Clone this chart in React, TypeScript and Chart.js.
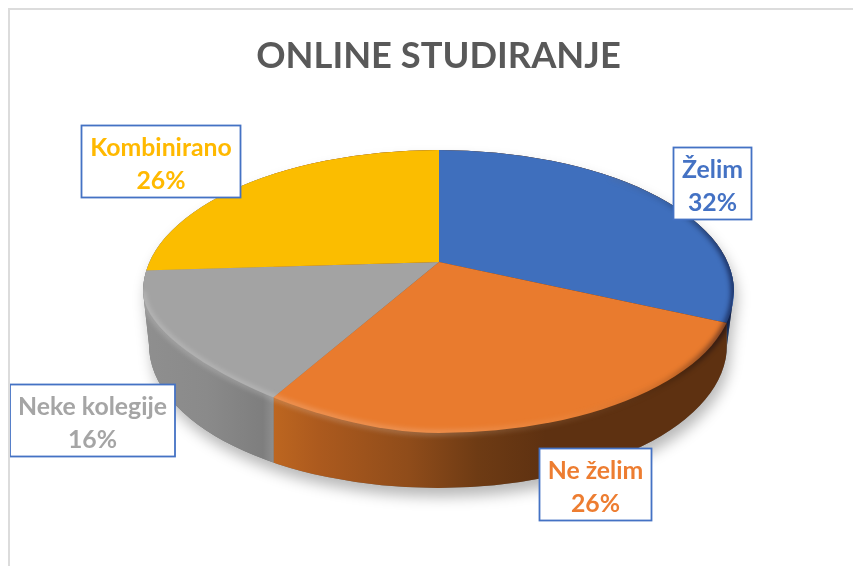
import React, { useEffect, useRef } from "react";
import { Chart, registerables } from "chart.js";

Chart.register(...registerables);

const TITLE = "ONLINE STUDIRANJE";
const categories = ["Želim", "Ne želim", "Neke kolegije", "Kombinirano"];
const shares = [32, 26, 16, 26];
const sliceColors = ["#3f6fbd", "#e97b2e", "#a3a3a3", "#fbbd00"];
const labelColors = ["#4472c4", "#ed7d31", "#a5a5a5", "#ffb900"];

// view geometry of the tilted pie
const HUB = { x: 439, y: 262 };
const TILT = 0.45;
const FACE = { x: 438.5, y: 291.5, rx: 295.5, ry: 141.5 };
const FOOT = { x: 438, y: 345, rx: 289, ry: 143 };
const FLAT = 0.42;
const BOXES = [
  { x: 673.5, y: 147.5, w: 78, h: 72 },
  { x: 539.5, y: 448.5, w: 112, h: 72 },
  { x: 10, y: 384.5, w: 165, h: 72 },
  { x: 81.5, y: 125.5, w: 159, h: 72 },
];
const WALL_STOPS: [number, string][][] = [
  [[0, "#1f3864"], [1, "#24447a"]],
  [[0, "#bd6620"], [0.1, "#ac5a1e"], [0.3, "#8f4c1a"], [0.45, "#6e3b14"], [0.6, "#5e3111"], [1, "#5e3111"]],
  [[0, "#8f8f8f"], [0.5, "#8a8a8a"], [0.92, "#7e7e7e"], [1, "#8e8e8e"]],
  [[0, "#a87c00"], [1, "#a87c00"]],
];

function traceFront(p: Path2D | CanvasRenderingContext2D, from: number) {
  const { x, y, rx, ry } = FACE;
  p.ellipse(x, y, rx, ry, 0, from, Math.PI / 2);
  p.bezierCurveTo(x - FLAT * rx, y + ry, x - rx, y + FLAT * ry, x - rx, y);
}

function facePath() {
  const p = new Path2D();
  p.ellipse(FACE.x, FACE.y, FACE.rx, FACE.ry, 0, Math.PI, Math.PI * 2);
  traceFront(p, 0);
  p.closePath();
  return p;
}

function silhouette(ctx: CanvasRenderingContext2D) {
  ctx.beginPath();
  ctx.ellipse(FACE.x, FACE.y, FACE.rx, FACE.ry, 0, Math.PI, Math.PI * 2);
  ctx.ellipse(FOOT.x, FOOT.y, FOOT.rx, FOOT.ry, 0, 0, Math.PI);
  ctx.closePath();
}

function rimPoint(ctx: CanvasRenderingContext2D, face: Path2D, angle: number) {
  const dx = Math.cos(angle);
  const dy = Math.sin(angle) * TILT;
  let t = 1;
  while (t < 500 && ctx.isPointInPath(face, HUB.x + dx * t, HUB.y + dy * t)) t += 0.5;
  return { x: HUB.x + dx * t, y: HUB.y + dy * t };
}

const tiltPlugin = {
  id: "tilt",
  beforeDatasetsDraw(chart: any) {
    const ctx: CanvasRenderingContext2D = chart.ctx;
    const arcs = chart.getDatasetMeta(0).data;
    const face = facePath();

    ctx.save();
    ctx.shadowColor = "rgba(0,0,0,0.28)";
    ctx.shadowBlur = 14;
    ctx.shadowOffsetX = 3;
    ctx.shadowOffsetY = 9;
    ctx.fillStyle = "#777";
    silhouette(ctx);
    ctx.fill();
    ctx.restore();

    ctx.save();
    silhouette(ctx);
    ctx.clip();
    const left = FACE.x - FACE.rx - 2;
    const right = FACE.x + FACE.rx + 2;
    arcs.forEach((arc: any, i: number) => {
      const s = rimPoint(ctx, face, arc.startAngle);
      const e = rimPoint(ctx, face, arc.endAngle);
      const sLow = s.y > FACE.y;
      const eLow = e.y > FACE.y;
      if (!sLow && !eLow) return;
      const x0 = eLow ? e.x : left;
      const x1 = sLow ? s.x : right;
      const g = ctx.createLinearGradient(x0, 0, x1, 0);
      WALL_STOPS[i].forEach(([o, c]) => g.addColorStop(o, c));
      ctx.fillStyle = g;
      ctx.fillRect(x0, FACE.y - FACE.ry, x1 - x0, 400);
    });
    ctx.restore();

    ctx.save();
    ctx.clip(face);
    const el = arcs[0];
    ctx.translate(HUB.x, HUB.y);
    ctx.scale(1, TILT);
    ctx.translate(-el.x, -el.y);
  },
  afterDatasetsDraw(chart: any) {
    const ctx: CanvasRenderingContext2D = chart.ctx;
    ctx.restore();

    // rounded edge between the top face and the wall
    ctx.save();
    silhouette(ctx);
    ctx.clip();
    const g = ctx.createLinearGradient(FACE.x - FACE.rx, 0, FACE.x + FACE.rx, 0);
    g.addColorStop(0, "rgba(255,255,255,0.2)");
    g.addColorStop(0.5, "rgba(255,255,255,0.18)");
    g.addColorStop(0.72, "rgba(255,200,150,0.1)");
    g.addColorStop(0.88, "rgba(0,0,0,0.12)");
    g.addColorStop(1, "rgba(0,0,30,0.6)");
    ctx.filter = "blur(2.5px)";
    ctx.strokeStyle = g;
    ctx.lineWidth = 6;
    ctx.beginPath();
    ctx.ellipse(FACE.x, FACE.y, FACE.rx, FACE.ry, 0, -0.95, 0);
    traceFront(ctx, 0);
    ctx.stroke();
    ctx.filter = "none";
    ctx.restore();

    // data labels
    const total = shares.reduce((a, b) => a + b, 0);
    ctx.save();
    ctx.textAlign = "center";
    ctx.textBaseline = "alphabetic";
    categories.forEach((name, i) => {
      const b = BOXES[i];
      ctx.fillStyle = "#fff";
      ctx.fillRect(b.x, b.y, b.w, b.h);
      ctx.strokeStyle = "#4472c4";
      ctx.lineWidth = 1.8;
      ctx.strokeRect(b.x, b.y, b.w, b.h);
      ctx.fillStyle = labelColors[i];
      ctx.font = "bold 24.8px Lato";
      const cx = b.x + b.w / 2;
      ctx.fillText(name, cx, b.y + 30);
      ctx.fillText(`${Math.round((shares[i] / total) * 100)}%`, cx, b.y + 63);
    });
    ctx.restore();
  },
};

export default function App() {
  const ref = useRef<HTMLCanvasElement>(null);
  useEffect(() => {
    const chart = new Chart(ref.current!, {
      type: "pie",
      data: {
        labels: categories,
        datasets: [
          {
            data: shares,
            backgroundColor: sliceColors,
            borderWidth: 0,
            clip: false,
          } as any,
        ],
      },
      options: {
        responsive: false,
        animation: false,
        radius: 420,
        layout: { padding: { left: 22 } },
        plugins: {
          legend: { display: false },
          tooltip: { enabled: false },
          title: {
            display: true,
            text: TITLE,
            color: "#595959",
            font: { family: "Lato", size: 36.3, weight: "bold" },
            padding: { top: 35, bottom: 10 },
          },
        },
      } as any,
      plugins: [tiltPlugin],
    });
    return () => chart.destroy();
  }, []);
  return (
    <div style={{ position: "fixed", left: 0, top: 0, width: 855, height: 566, background: "#fff" }}>
      <canvas ref={ref} width={855} height={566} style={{ display: "block" }} />
      <div
        style={{
          position: "absolute",
          left: 8,
          top: 8,
          width: 845,
          height: 558,
          boxSizing: "border-box",
          borderLeft: "2px solid #dcdcdc",
          borderTop: "2px solid #dcdcdc",
          pointerEvents: "none",
        }}
      />
    </div>
  );
}
